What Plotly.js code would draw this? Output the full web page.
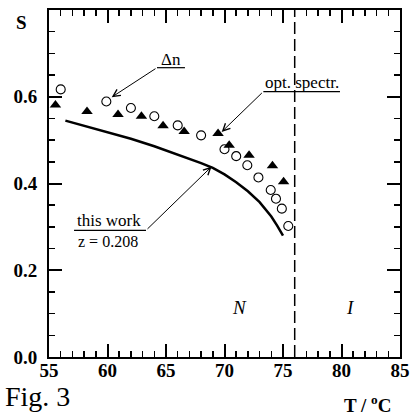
<!DOCTYPE html>
<html>
<head>
<meta charset="utf-8">
<script src="https://cdn.plot.ly/plotly-3.0.1.min.js"></script>
<style>html,body{margin:0;padding:0;background:#fff;}#chart{width:410px;height:420px;}</style>
</head>
<body>
<div id="chart"></div>
<script>
// Δn (birefringence) data – open circles
const dnT = [56.0, 59.9, 62.0, 64.0, 66.0, 68.0, 70.0, 71.0, 71.95, 72.9, 73.95, 74.4, 74.9, 75.45];
const dnS = [0.617, 0.589, 0.574, 0.555, 0.534, 0.511, 0.479, 0.463, 0.442, 0.414, 0.385, 0.365, 0.342, 0.302];
// optical spectroscopy data – filled triangles
const optT = [55.55, 58.25, 60.9, 62.9, 64.75, 66.55, 69.45, 70.4, 72.1, 74.1, 75.05];
const optS = [0.581, 0.566, 0.559, 0.555, 0.533, 0.520, 0.515, 0.488, 0.465, 0.441, 0.404];
// this work, z = 0.208 – solid curve
const fitT = [56.4, 58, 60, 62, 64, 66, 68, 69, 70, 71, 72, 73, 74, 74.5, 75];
const fitS = [0.545, 0.533, 0.519, 0.503, 0.486, 0.467, 0.447, 0.436, 0.421, 0.403, 0.382, 0.357, 0.324, 0.303, 0.280];
// N–I transition temperature
const TNI = 76;
// tick labels
const yTickVals = [0, 0.2, 0.4, 0.6, 0.8];
const yTickText = ['0.0', '0.2', '0.4', '0.6', ''];

const serif = 'Liberation Serif, DejaVu Serif, serif';

const traces = [
  {x: fitT, y: fitS, mode: 'lines', line: {color: '#000', width: 2.5}, hoverinfo: 'skip'},
  {x: dnT, y: dnS, mode: 'markers', marker: {symbol: 'circle-open', size: 9, color: '#000', line: {width: 1.1}}},
  {x: optT, y: optS, mode: 'markers', marker: {symbol: 'triangle-up', size: 10, color: '#000'}}
];

const axCommon = {
  showgrid: false, zeroline: false, showline: true, linecolor: '#000', linewidth: 2,
  mirror: 'ticks', ticks: 'inside', tickcolor: '#000', tickwidth: 2, ticklen: 13,
  tickfont: {family: serif, size: 19, color: '#000', weight: 700}
};

const arrowStyle = {showarrow: true, arrowhead: 5, arrowsize: 1.4, arrowwidth: 1, arrowcolor: '#000',
  axref: 'x', ayref: 'y', xref: 'x', yref: 'y', text: ''};
const lbl = {xref: 'x', yref: 'y', showarrow: false, xanchor: 'center', yanchor: 'middle',
  font: {family: serif, size: 17, color: '#000'}};

const layout = {
  width: 410, height: 420,
  margin: {l: 49, r: 10, t: 10, b: 63},
  paper_bgcolor: '#fff', plot_bgcolor: '#fff',
  showlegend: false,
  font: {family: serif, color: '#000'},
  xaxis: Object.assign({}, axCommon, {
    range: [55, 85], dtick: 5, tick0: 55,
    ticklabelstandoff: -5,
    minor: {dtick: 1, ticks: 'inside', ticklen: 6, tickwidth: 1.5, tickcolor: '#000'}
  }),
  yaxis: Object.assign({}, axCommon, {
    range: [0, 0.8], tickmode: 'array', tickvals: yTickVals, ticktext: yTickText,
    ticklabelstandoff: 6,
    minor: {tickmode: 'linear', tick0: 0, dtick: 0.05, ticks: 'inside', ticklen: 6, tickwidth: 1.5, tickcolor: '#000'}
  }),
  shapes: [
    {type: 'line', xref: 'x', yref: 'paper', x0: TNI, x1: TNI, y0: 0, y1: 1,
     line: {color: '#000', width: 1.5, dash: '12px,5px'}},
    // underlines of labels
    {type: 'line', xref: 'x', yref: 'y', x0: 64.23, x1: 66.62, y0: 0.667, y1: 0.667, line: {color: '#000', width: 1.2}},
    {type: 'line', xref: 'x', yref: 'y', x0: 73.32, x1: 79.87, y0: 0.612, y1: 0.612, line: {color: '#000', width: 1.2}},
    {type: 'line', xref: 'x', yref: 'y', x0: 57.14, x1: 63.29, y0: 0.292, y1: 0.292, line: {color: '#000', width: 1.2}}
  ],
  annotations: [
    // arrows
    Object.assign({x: 60.36, y: 0.599, ax: 64.23, ay: 0.667}, arrowStyle),
    Object.assign({x: 69.76, y: 0.519, ax: 73.32, ay: 0.612}, arrowStyle),
    Object.assign({x: 68.9, y: 0.439, ax: 63.29, ay: 0.292}, arrowStyle),
    // labels
    Object.assign({x: 65.4, y: 0.685, text: 'Δn'}, lbl),
    Object.assign({x: 76.6, y: 0.634, text: 'opt. spectr.'}, lbl),
    Object.assign({x: 60.1, y: 0.315, text: 'this work'}, lbl),
    Object.assign({x: 60.0, y: 0.267, text: 'z = 0.208'}, lbl, {font: {family: serif, size: 16, color: '#000'}}),
    Object.assign({x: 71.3, y: 0.115, text: '<i>N</i>'}, lbl, {font: {family: serif, size: 19, color: '#000'}}),
    Object.assign({x: 80.8, y: 0.113, text: '<i>I</i>'}, lbl, {font: {family: serif, size: 19, color: '#000'}}),
    // axis titles and figure caption
    {x: -0.077, y: 0.965, xref: 'paper', yref: 'paper', xanchor: 'center', yanchor: 'middle',
     text: '<b>S</b>', showarrow: false, font: {family: serif, size: 19, color: '#000'}},
    {x: 0.909, y: -0.135, xref: 'paper', yref: 'paper', xanchor: 'center', yanchor: 'middle',
     text: '<b>T / <sup>o</sup>C</b>', showarrow: false, font: {family: serif, size: 19, color: '#000'}},
    {x: -0.131, y: -0.115, xref: 'paper', yref: 'paper', xanchor: 'left', yanchor: 'middle',
     text: 'Fig. 3', showarrow: false, font: {family: serif, size: 28, color: '#000'}}
  ]
};

Plotly.newPlot('chart', traces, layout, {displayModeBar: false, staticPlot: true});
</script>
</body>
</html>
